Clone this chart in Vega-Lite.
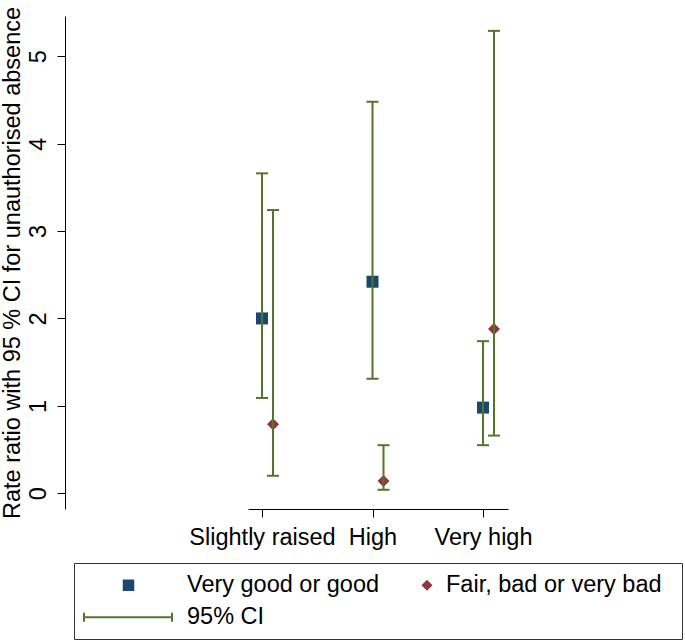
{
  "$schema": "https://vega.github.io/schema/vega-lite/v6.json",
  "autosize": "none",
  "width": 260,
  "height": 493,
  "padding": {"left": 248, "top": 16, "right": 177, "bottom": 132},
  "background": "white",
  "config": {"font": "Liberation Sans", "view": {"stroke": null}},
  "data": {
    "values": [
      {"level": "Slightly raised", "health": "Very good or good", "rr": 2.00, "lo": 1.09, "hi": 3.66},
      {"level": "Slightly raised", "health": "Fair, bad or very bad", "rr": 0.79, "lo": 0.20, "hi": 3.24},
      {"level": "High", "health": "Very good or good", "rr": 2.42, "lo": 1.31, "hi": 4.48},
      {"level": "High", "health": "Fair, bad or very bad", "rr": 0.14, "lo": 0.04, "hi": 0.55},
      {"level": "Very high", "health": "Very good or good", "rr": 0.98, "lo": 0.55, "hi": 1.74},
      {"level": "Very high", "health": "Fair, bad or very bad", "rr": 1.88, "lo": 0.66, "hi": 5.29}
    ]
  },
  "encoding": {
    "x": {
      "field": "level",
      "type": "nominal",
      "sort": ["Slightly raised", "High", "Very high"],
      "scale": {"type": "point", "padding": 0.1765, "align": 0.359},
      "axis": {
        "title": null,
        "labelAngle": 0,
        "labelFontSize": 23.5,
        "labelColor": "black",
        "labelPadding": 8,
        "tickSize": 8,
        "tickColor": "black",
        "domainColor": "black",
        "grid": false
      }
    },
    "xOffset": {
      "field": "health",
      "type": "nominal",
      "sort": ["Very good or good", "Fair, bad or very bad"],
      "scale": {"type": "point", "range": [0, 11], "padding": 0}
    }
  },
  "layer": [
    {
      "mark": {"type": "point", "filled": true, "opacity": 1, "size": 144},
      "encoding": {
        "y": {
          "field": "rr",
          "type": "quantitative",
          "scale": {"domain": [-0.18, 5.46], "nice": false, "zero": false},
          "axis": {
            "title": "Rate ratio with 95 % CI for unauthorised absence",
            "titleFontSize": 23.5,
            "titleFontWeight": "normal",
            "titleColor": "black",
            "titlePadding": 2,
            "values": [0, 1, 2, 3, 4, 5],
            "format": "d",
            "labelAngle": -90,
            "labelAlign": "center",
            "labelBaseline": "alphabetic",
            "labelFontSize": 23.5,
            "labelColor": "black",
            "labelPadding": 12,
            "tickSize": 8,
            "tickColor": "black",
            "domainColor": "black",
            "grid": false,
            "offset": 183
          }
        },
        "color": {
          "field": "health",
          "type": "nominal",
          "scale": {
            "domain": ["Very good or good", "Fair, bad or very bad", "95% CI"],
            "range": ["#1a476f", "#90353b", "#55752f"]
          },
          "legend": {
            "title": null,
            "orient": "none",
            "legendX": -174,
            "legendY": 547,
            "direction": "horizontal",
            "columns": 2,
            "gridAlign": "each",
            "padding": 10,
            "strokeColor": "#333333",
            "labelFontSize": 23.5,
            "labelColor": "black",
            "labelLimit": 400,
            "labelOffset": 7.25,
            "symbolOffset": 72.25,
            "symbolOpacity": 1,
            "rowPadding": 7.5,
            "columnPadding": 0,
            "encode": {
              "symbols": {
                "update": {
                  "shape": {"signal": "datum.value === '95% CI' ? 'M-84,0H4M-84,-4.5V4.5M4,-4.5V4.5' : datum.value === 'Very good or good' ? 'M-45.25,-5.75H-33.75V5.75H-45.25ZM216,0' : 'M-41,-5.5L-35.5,0L-41,5.5L-46.5,0ZM204,0'"},
                  "size": {"value": 4},
                  "fill": {"signal": "datum.value === '95% CI' ? 'transparent' : scale('color', datum.value)"},
                  "stroke": {"signal": "datum.value === '95% CI' ? '#55752f' : null"},
                  "strokeWidth": {"signal": "datum.value === '95% CI' ? 2 : 0"},
                  "opacity": {"value": 1}
                }
              },
              "labels": {
                "update": {
                  "x": {"signal": "datum.value === 'Fair, bad or very bad' ? 62 : 103"}
                }
              }
            }
          }
        },
        "shape": {
          "field": "health",
          "type": "nominal",
          "scale": {"domain": ["Very good or good", "Fair, bad or very bad"], "range": ["square", "diamond"]},
          "legend": null
        }
      }
    },
    {
      "mark": {"type": "rule", "strokeWidth": 2, "opacity": 1},
      "encoding": {
        "y": {"field": "lo", "type": "quantitative"},
        "y2": {"field": "hi"},
        "color": {"datum": "95% CI"}
      }
    },
    {
      "mark": {"type": "tick", "orient": "horizontal", "size": 12, "thickness": 2, "opacity": 1},
      "encoding": {
        "y": {"field": "lo", "type": "quantitative"},
        "color": {"datum": "95% CI"}
      }
    },
    {
      "mark": {"type": "tick", "orient": "horizontal", "size": 12, "thickness": 2, "opacity": 1},
      "encoding": {
        "y": {"field": "hi", "type": "quantitative"},
        "color": {"datum": "95% CI"}
      }
    }
  ]
}
